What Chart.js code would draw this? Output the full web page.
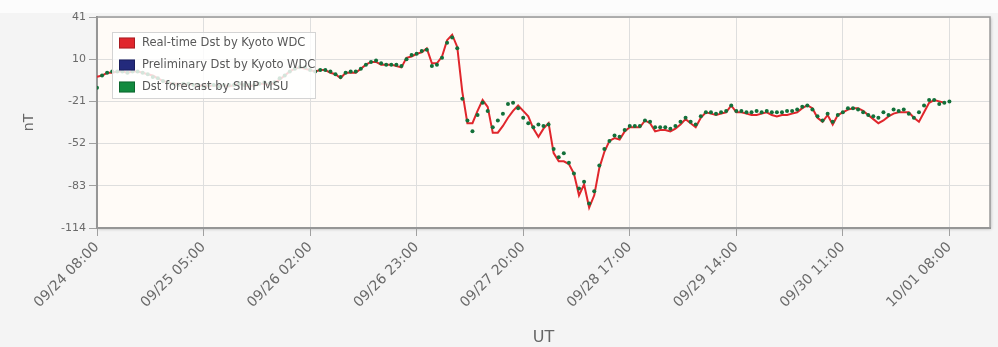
<!DOCTYPE html>
<html>
<head>
<meta charset="utf-8">
<script src="https://cdn.jsdelivr.net/npm/chart.js@4.4.1/dist/chart.umd.min.js"></script>
<style>
  html, body { margin: 0; padding: 0; background: #f4f4f4; }
  canvas { display: block; }
</style>
</head>
<body>
<canvas id="dst-chart" width="998" height="347"></canvas>
<script>
// hours since 09/24 08:00 UT, one tick every 21 h
const tickLabels = ['09/24 08:00', '09/25 05:00', '09/26 02:00', '09/26 23:00', '09/27 20:00',
  '09/28 17:00', '09/29 14:00', '09/30 11:00', '10/01 08:00']
const tickStep = 21
const yTicks = [41, 10, -21, -52, -83, -114]

const seriesNames = ['Real-time Dst by Kyoto WDC', 'Preliminary Dst by Kyoto WDC', 'Dst forecast by SINP MSU']
const seriesColors = ['#e0262c', '#232a7c', '#118a3e']

// hourly values, nT
const realtimeDst = [
  -3, -2, 0, 0, 1, 1, 0, 1, 1, 0, -1, -2,
  -4, -6, -7, -8, -8, -9, -8, -9, -10, -9, -10, -9,
  -10, -9, -10, -9, -8, -9, -10, -9, -8, -8, -9, -7,
  -5, -2, 1, 3, 4, 3, 2, 1, 2, 2, 0, -1,
  -4, 0, 0, 0, 3, 6, 8, 8, 6, 6, 6, 5,
  4, 11, 12, 14, 15, 18, 7, 7, 12, 24, 28, 19,
  -14, -37, -37, -28, -20, -25, -44, -44, -39, -33, -28, -24,
  -28, -32, -41, -47, -41, -37, -59, -65, -65, -67, -74, -90,
  -82, -99, -90, -70, -58, -50, -48, -49, -43, -40, -40, -40,
  -35, -37, -43, -42, -42, -43, -41, -38, -34, -37, -40, -33,
  -29, -30, -31, -30, -29, -24, -29, -29, -30, -31, -31, -30,
  -29, -31, -32, -31, -31, -30, -29, -26, -24, -26, -33, -36,
  -31, -38, -31, -29, -27, -26, -26, -28, -31, -34, -37, -35,
  -32, -30, -29, -29, -29, -33, -36, -29, -22, -20, -21, -22
]
const preliminaryDst = []
const forecastDst = [
  -11, -2, 0, 1, 1, 1, 0, 1, 1, 0, -1, -3,
  -4, -6, -7, -8, -9, -8, -8, -9, -9, -10, -9, -9,
  -10, -9, -9, -9, -8, -9, -9, -9, -8, -7, -8, -7,
  -4, -2, 1, 3, 4, 4, 2, 1, 2, 2, 1, -1,
  -3, 0, 1, 1, 3, 6, 8, 9, 7, 6, 6, 6,
  5, 10, 13, 14, 16, 17, 5, 6, 11, 22, 26, 18,
  -19, -35, -43, -31, -22, -28, -40, -35, -30, -23, -22, -26,
  -33, -37, -40, -38, -39, -38, -56, -62, -59, -66, -74, -85,
  -80, -96, -87, -68, -56, -50, -46, -47, -42, -39, -39, -39,
  -35, -36, -40, -40, -40, -41, -39, -36, -33, -36, -38, -32,
  -29, -29, -30, -29, -28, -24, -28, -28, -29, -29, -28, -29,
  -28, -29, -29, -29, -28, -28, -27, -25, -24, -27, -32, -35,
  -30, -36, -31, -29, -26, -26, -27, -29, -31, -32, -33, -29,
  -31, -27, -28, -27, -30, -33, -29, -24, -20, -20, -23, -22, -21
]

const toPoints = (arr) => arr.map((v, i) => ({ x: i, y: v }))

// page / plot backgrounds + plot frame
const plotFrame = {
  id: 'plotFrame',
  beforeDraw (chart) {
    const { ctx, chartArea: a, width, height } = chart
    ctx.save()
    ctx.fillStyle = '#f4f4f4'
    ctx.fillRect(0, 0, width, height)
    ctx.fillStyle = '#fcfcfc'
    ctx.fillRect(0, 0, width, 13)
    ctx.shadowColor = 'rgba(0,0,0,0.25)'
    ctx.shadowBlur = 3
    ctx.shadowOffsetX = 1
    ctx.shadowOffsetY = 1
    ctx.fillStyle = '#fffbf7'
    ctx.fillRect(a.left, a.top, a.right - a.left, a.bottom - a.top)
    ctx.restore()
  },
  beforeDatasetsDraw (chart) {
    const { ctx, chartArea: a } = chart
    ctx.save()
    ctx.strokeStyle = '#9a9a9a'
    ctx.lineWidth = 1.5
    ctx.strokeRect(a.left, a.top, a.right - a.left, a.bottom - a.top)
    ctx.restore()
  }
}

// legend box sitting inside the plot
const insideLegend = {
  id: 'insideLegend',
  afterDatasetsDraw (chart) {
    const ctx = chart.ctx
    const x = 112
    const y = 32
    ctx.save()
    ctx.fillStyle = 'rgba(255,255,255,0.82)'
    ctx.fillRect(x, y, 204, 67)
    ctx.strokeStyle = '#d4d4d4'
    ctx.lineWidth = 1
    ctx.strokeRect(x + 0.5, y + 0.5, 203, 66)
    ctx.font = '11.5px "DejaVu Sans", Verdana, sans-serif'
    ctx.textBaseline = 'middle'
    chart.data.datasets.forEach((ds, i) => {
      const cy = y + 10.5 + i * 22
      ctx.fillStyle = seriesColors[i]
      ctx.fillRect(x + 7, cy - 5, 16, 11)
      ctx.strokeStyle = 'rgba(0,0,0,0.25)'
      ctx.strokeRect(x + 7.5, cy - 4.5, 15, 10)
      ctx.fillStyle = '#585858'
      ctx.fillText(ds.label, x + 30, cy + 0.5)
    })
    ctx.restore()
  }
}

const chart = new Chart(document.getElementById('dst-chart'), {
  type: 'line',
  data: {
    datasets: [
      {
        label: seriesNames[0],
        data: toPoints(realtimeDst),
        borderColor: seriesColors[0],
        borderWidth: 2,
        pointRadius: 0,
        tension: 0,
        order: 2
      },
      {
        label: seriesNames[1],
        data: toPoints(preliminaryDst),
        borderColor: seriesColors[1],
        borderWidth: 2,
        pointRadius: 0,
        order: 1
      },
      {
        label: seriesNames[2],
        data: toPoints(forecastDst),
        showLine: false,
        pointRadius: 2,
        pointBorderWidth: 0,
        pointBackgroundColor: '#13703a',
        borderColor: '#13703a',
        order: 0
      }
    ]
  },
  options: {
    responsive: false,
    animation: false,
    layout: { padding: { top: 17, right: 8, left: 0, bottom: 0 } },
    plugins: {
      legend: { display: false },
      tooltip: { enabled: false }
    },
    scales: {
      x: {
        type: 'linear',
        min: 0,
        max: 176,
        afterBuildTicks (scale) {
          scale.ticks = tickLabels.map((_, i) => ({ value: i * tickStep }))
        },
        afterFit (scale) { scale.height = 119 },
        ticks: {
          autoSkip: false,
          minRotation: 45,
          maxRotation: 45,
          color: '#6a6a6a',
          font: { family: 'DejaVu Sans', size: 14 },
          callback: (value) => tickLabels[Math.round(value / tickStep)]
        },
        grid: { color: '#dedede', tickColor: '#a0a0a0', tickLength: 8 },
        border: { color: '#8a8a8a', width: 2 },
        title: {
          display: true,
          text: 'UT',
          color: '#666',
          font: { family: 'DejaVu Sans', size: 16 },
          padding: { top: 2, bottom: 0 }
        }
      },
      y: {
        min: -114,
        max: 41,
        afterBuildTicks (scale) {
          scale.ticks = yTicks.map((v) => ({ value: v }))
        },
        afterFit (scale) { scale.width = 97 },
        ticks: {
          color: '#6a6a6a',
          font: { family: 'DejaVu Sans', size: 11 }
        },
        grid: { color: '#dedede', tickColor: '#a0a0a0', tickLength: 8 },
        border: { color: '#8a8a8a', width: 2 },
        title: {
          display: true,
          text: 'nT',
          color: '#666',
          font: { family: 'DejaVu Sans', size: 14 },
          padding: { top: 21, bottom: 0 }
        }
      }
    }
  },
  plugins: [plotFrame, insideLegend]
})
</script>
</body>
</html>
